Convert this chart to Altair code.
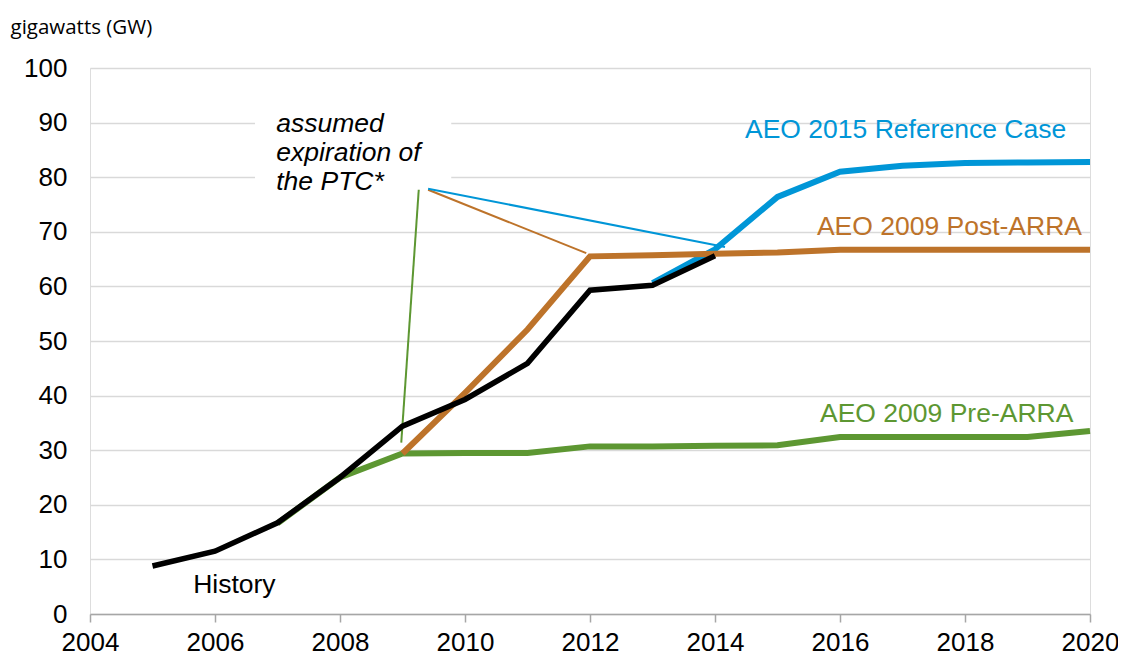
import altair as alt
import pandas as pd

# ---- data ----
hist_years = [2005, 2006, 2007, 2008, 2009, 2010, 2011, 2012, 2013, 2014]
hist_vals = [8.8, 11.5, 16.7, 25.0, 34.4, 39.3, 45.9, 59.3, 60.2, 65.6]

pre_years = list(range(2007, 2021))
pre_vals = [16.6, 25.0, 29.4, 29.5, 29.5, 30.7, 30.7, 30.8, 30.9, 32.4, 32.4, 32.4, 32.4, 33.5]

post_years = list(range(2009, 2021))
post_vals = [29.4, 40.5, 52.1, 65.5, 65.7, 66.0, 66.2, 66.7, 66.7, 66.7, 66.7, 66.7]

ref_years = list(range(2013, 2021))
ref_vals = [60.6, 66.8, 76.4, 81.0, 82.1, 82.6, 82.7, 82.8]

series_colors = {"History": "#000000", "Pre": "#5D9732", "Post": "#BD732A", "Ref": "#0096D7"}

# series labels
lab_text = ["AEO 2015 Reference Case", "AEO 2009 Post-ARRA", "AEO 2009 Pre-ARRA", "History"]
lab_x = [2014.48, 2015.63, 2015.68, 2005.65]
lab_y = [88.6, 70.8, 36.6, 5.3]
lab_color = ["#0096D7", "#BD732A", "#5D9732", "#000000"]

# annotation
note_lines = ["assumed", "expiration of", "the PTC*"]
note_x = [2006.98, 2006.98, 2006.98]
note_y = [89.8, 84.5, 79.2]

box_x = [2006.64]
box_x2 = [2009.78]
box_y = [75.6]
box_y2 = [93.0]

lead_x = [2009.26, 2009.41, 2009.41]
lead_y = [77.7, 77.7, 77.9]
lead_x2 = [2008.98, 2011.94, 2014.16]
lead_y2 = [31.4, 66.1, 67.2]
lead_color = ["#5D9732", "#BD732A", "#0096D7"]

FONT = "Liberation Sans"

xscale = alt.Scale(domain=[2004, 2020], nice=False, zero=False)
yscale = alt.Scale(domain=[0, 100], nice=False)

x_enc = alt.X(
    "year:Q", scale=xscale,
    axis=alt.Axis(values=list(range(2004, 2021, 2)), format="d", grid=False,
                  domainColor="#a6a6a6", domainWidth=1.5, tickColor="#a6a6a6",
                  tickWidth=1.5, tickSize=8, labelFontSize=26, labelFont=FONT,
                  labelColor="#000000", labelPadding=7, labelFlush=False,
                  labelOverlap=False, title=None),
)
y_enc = alt.Y(
    "value:Q", scale=yscale,
    axis=alt.Axis(values=list(range(0, 101, 10)), grid=True, gridColor="#d9d9d9",
                  gridWidth=1.5, domain=False, ticks=False, labelFontSize=26,
                  labelFont=FONT, labelColor="#000000", labelPadding=23,
                  title="gigawatts (GW)", titleAngle=0, titleAlign="left",
                  titleBaseline="middle", titleX=-80, titleY=-41,
                  titleFont="Open Sans", titleFontSize=20.5, titleFontWeight="normal",
                  titleColor="#000000"),
)


def series_layer(years, vals, color, width):
    df = pd.DataFrame({"year": years, "value": vals})
    return alt.Chart(df).mark_line(color=color, strokeWidth=width, strokeCap="butt",
                                   strokeJoin="miter").encode(x=alt.X("year:Q", scale=xscale),
                                                              y=alt.Y("value:Q", scale=yscale))


base_df = pd.DataFrame({"year": hist_years, "value": hist_vals})
axes_layer = alt.Chart(base_df).mark_point(opacity=0).encode(x=x_enc, y=y_enc)

box_df = pd.DataFrame({"x": box_x, "x2": box_x2, "y": box_y, "y2": box_y2})
box = alt.Chart(box_df).mark_rect(color="white").encode(
    x=alt.X("x:Q", scale=xscale), x2="x2:Q", y=alt.Y("y:Q", scale=yscale), y2="y2:Q")

note_df = pd.DataFrame({"x": note_x, "y": note_y, "t": note_lines})
note = alt.Chart(note_df).mark_text(font=FONT, fontSize=26.5, fontStyle="italic",
                                    align="left", baseline="middle", color="#000000").encode(
    x=alt.X("x:Q", scale=xscale), y=alt.Y("y:Q", scale=yscale), text="t:N")

lead_df = pd.DataFrame({"x": lead_x, "y": lead_y, "x2": lead_x2, "y2": lead_y2, "c": lead_color})
leads = alt.Chart(lead_df).mark_rule(strokeWidth=2).encode(
    x=alt.X("x:Q", scale=xscale), y=alt.Y("y:Q", scale=yscale), x2="x2:Q", y2="y2:Q",
    color=alt.Color("c:N", scale=None))

lab_df = pd.DataFrame({"x": lab_x, "y": lab_y, "t": lab_text, "c": lab_color})
labels = alt.Chart(lab_df).mark_text(font=FONT, fontSize=26.5, align="left",
                                     baseline="middle").encode(
    x=alt.X("x:Q", scale=xscale), y=alt.Y("y:Q", scale=yscale), text="t:N",
    color=alt.Color("c:N", scale=None))

chart = alt.layer(
    axes_layer,
    box,
    note,
    labels,
    leads,
    series_layer(pre_years, pre_vals, series_colors["Pre"], 6),
    series_layer(ref_years, ref_vals, series_colors["Ref"], 6),
    series_layer(post_years, post_vals, series_colors["Post"], 6),
    series_layer(hist_years, hist_vals, series_colors["History"], 5.5),
).properties(
    width=1000, height=546,
    autosize=alt.AutoSizeParams(type="none"),
    padding={"left": 82, "top": 60, "right": 28, "bottom": 46},
).configure_view(stroke=None).configure(background="white")

chart.save("out.html", embed_options={"renderer": "svg", "actions": False})
